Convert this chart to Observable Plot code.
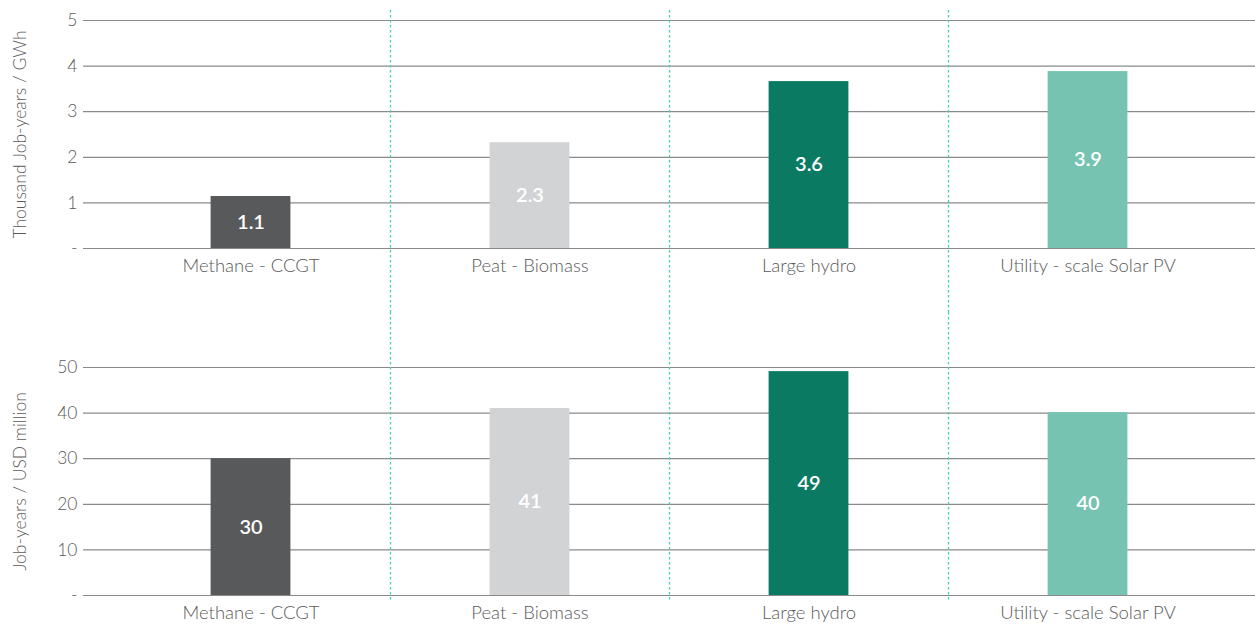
<!DOCTYPE html>
<html>
<head>
<meta charset="utf-8">
<script src="https://cdn.jsdelivr.net/npm/d3@7"></script>
<script src="https://cdn.jsdelivr.net/npm/@observablehq/plot@0.6"></script>
<style>
  body { margin: 0; background: #fff; font-family: Lato, "Open Sans", sans-serif; }
  #chart svg { display: block; }
</style>
</head>
<body>
<div id="chart"></div>
<script>
const categories = ["Methane - CCGT", "Peat - Biomass", "Large hydro", "Utility - scale Solar PV"];
const barColors = ["#58595b", "#d1d3d4", "#0b7a63", "#76c3b1"];
const perGWh = [1.14, 2.32, 3.66, 3.88];
const perGWhLabels = ["1.1", "2.3", "3.6", "3.9"];
const perUSD = [30.0, 41.0, 49.1, 40.1];
const perUSDLabels = ["30", "41", "49", "40"];
const topTicks = [0, 1, 2, 3, 4, 5];
const bottomTicks = [0, 10, 20, 30, 40, 50];

const rows = (vals, labs) => categories.map((c, i) => ({cat: c, v: vals[i], lab: labs[i], color: barColors[i]}));

function panel({data, ticks, label, height, marginTop, marginBottom, ruleInsetTop, ruleInsetBottom}) {
  const xRange = [110.5, 1226.5];
  const bw = (xRange[1] - xRange[0]) / categories.length;
  return Plot.plot({
    width: 1255,
    height,
    marginLeft: 83,
    marginRight: 0,
    marginTop,
    marginBottom,
    style: {fontFamily: "Lato, 'Open Sans', sans-serif", fontWeight: 300, background: "#fff"},
    x: {type: "band", domain: categories, range: xRange, padding: 0},
    y: {domain: [ticks[0], ticks[ticks.length - 1]]},
    color: {type: "identity"},
    marks: [
      Plot.ruleY(ticks, {stroke: "#8a8a8a", strokeWidth: 1.2}),
      Plot.ruleX(categories.slice(1), {x: d => d, dx: -bw / 2, stroke: "#45cfb6", strokeWidth: 1.3, strokeDasharray: "2.5,2.5", insetTop: ruleInsetTop, insetBottom: ruleInsetBottom}),
      Plot.barY(data, {x: "cat", y: "v", fill: "color", insetLeft: 99.6, insetRight: 99.6}),
      Plot.text(data, {x: "cat", y: d => d.v / 2, text: "lab", fill: "white", fontSize: 20, fontWeight: 600}),
      Plot.axisY({ticks, tickSize: 0, tickPadding: 6, fontSize: 17.5, color: "#5a5a5a", tickFormat: d => d === 0 ? "-" : String(d), label, labelAnchor: "center", labelArrow: "none", labelOffset: 70}),
      Plot.axisX({tickSize: 0, tickPadding: 10, fontSize: 18.5, color: "#5a5a5a", label: null})
    ]
  });
}

const chart = document.getElementById("chart");
chart.append(panel({data: rows(perGWh, perGWhLabels), ticks: topTicks, label: "Thousand Job-years / GWh", height: 312, marginTop: 20, marginBottom: 64, ruleInsetTop: -10, ruleInsetBottom: -64}));
chart.append(panel({data: rows(perUSD, perUSDLabels), ticks: bottomTicks, label: "Job-years / USD million", height: 313, marginTop: 55, marginBottom: 30, ruleInsetTop: -55, ruleInsetBottom: -5}));
</script>
</body>
</html>
